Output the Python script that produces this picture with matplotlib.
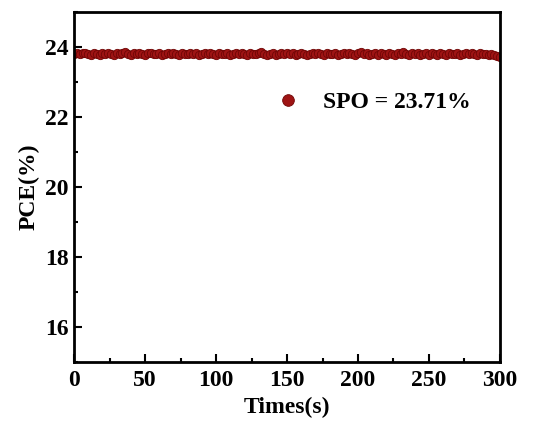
import matplotlib
matplotlib.use('Agg')
import matplotlib.pyplot as plt
from matplotlib.ticker import MultipleLocator

plt.rcParams['font.family'] = 'Liberation Serif'
plt.rcParams['font.weight'] = 'bold'

# time in seconds, one point every 2 s
times = list(range(0, 301, 2))
pce = [23.80, 23.82, 23.79, 23.81, 23.83, 23.80, 23.78, 23.82, 23.80, 23.77,
       23.81, 23.79, 23.83, 23.80, 23.78, 23.82, 23.79, 23.81, 23.84, 23.80,
       23.78, 23.81, 23.79, 23.82, 23.80, 23.78, 23.81, 23.83, 23.79, 23.80,
       23.82, 23.78, 23.80, 23.81, 23.79, 23.82, 23.80, 23.78, 23.81, 23.79,
       23.80, 23.82, 23.79, 23.81, 23.78, 23.80, 23.82, 23.79, 23.81, 23.80,
       23.78, 23.82, 23.80, 23.79, 23.81, 23.78, 23.80, 23.82, 23.79, 23.81,
       23.80, 23.78, 23.82, 23.80, 23.79, 23.81, 23.85, 23.80, 23.77, 23.79,
       23.81, 23.78, 23.80, 23.83, 23.80, 23.82, 23.79, 23.81, 23.78, 23.80,
       23.82, 23.79, 23.77, 23.80, 23.82, 23.79, 23.81, 23.80, 23.78, 23.82,
       23.80, 23.79, 23.81, 23.78, 23.80, 23.82, 23.79, 23.81, 23.80, 23.78,
       23.82, 23.84, 23.79, 23.81, 23.76, 23.80, 23.83, 23.78, 23.81, 23.79,
       23.77, 23.82, 23.80, 23.78, 23.81, 23.79, 23.85, 23.80, 23.77, 23.82,
       23.79, 23.81, 23.76, 23.80, 23.83, 23.78, 23.81, 23.79, 23.77, 23.82,
       23.80, 23.78, 23.81, 23.79, 23.80, 23.82, 23.78, 23.80, 23.81, 23.79,
       23.82, 23.80, 23.78, 23.81, 23.79, 23.80, 23.77, 23.79, 23.76, 23.74,
       23.71]
label = 'SPO = 23.71%'

fig, ax = plt.subplots(figsize=(5.33, 4.21), dpi=100)
fig.subplots_adjust(left=0.139, right=0.938, top=0.972, bottom=0.14)

ax.plot(times, pce, 'o', color='#9e1414', markeredgecolor='#700505',
        markeredgewidth=0.6, markersize=6, label=label)

ax.set_xlim(0, 300)
ax.set_ylim(15, 25)
ax.xaxis.set_major_locator(MultipleLocator(50))
ax.xaxis.set_minor_locator(MultipleLocator(25))
ax.yaxis.set_minor_locator(MultipleLocator(1))
ax.set_yticks([16, 18, 20, 22, 24])

ax.tick_params(which='both', direction='in', top=False, right=False,
               labelsize=17, width=1.5, pad=4)
ax.tick_params(axis='x', which='major', pad=6)
ax.tick_params(which='major', length=6)
ax.tick_params(which='minor', length=3)
for s in ax.spines.values():
    s.set_linewidth(2)

ax.set_xlabel('Times(s)', fontsize=17, fontweight='bold', labelpad=4)
ax.set_ylabel('PCE(%)', fontsize=17, fontweight='bold', labelpad=4)

leg = ax.legend(loc='upper left', bbox_to_anchor=(0.447, 0.773), frameon=False,
                fontsize=17, handletextpad=0.5, markerscale=1.4,
                borderaxespad=0, borderpad=0)

fig.savefig('out.png', dpi=100)
